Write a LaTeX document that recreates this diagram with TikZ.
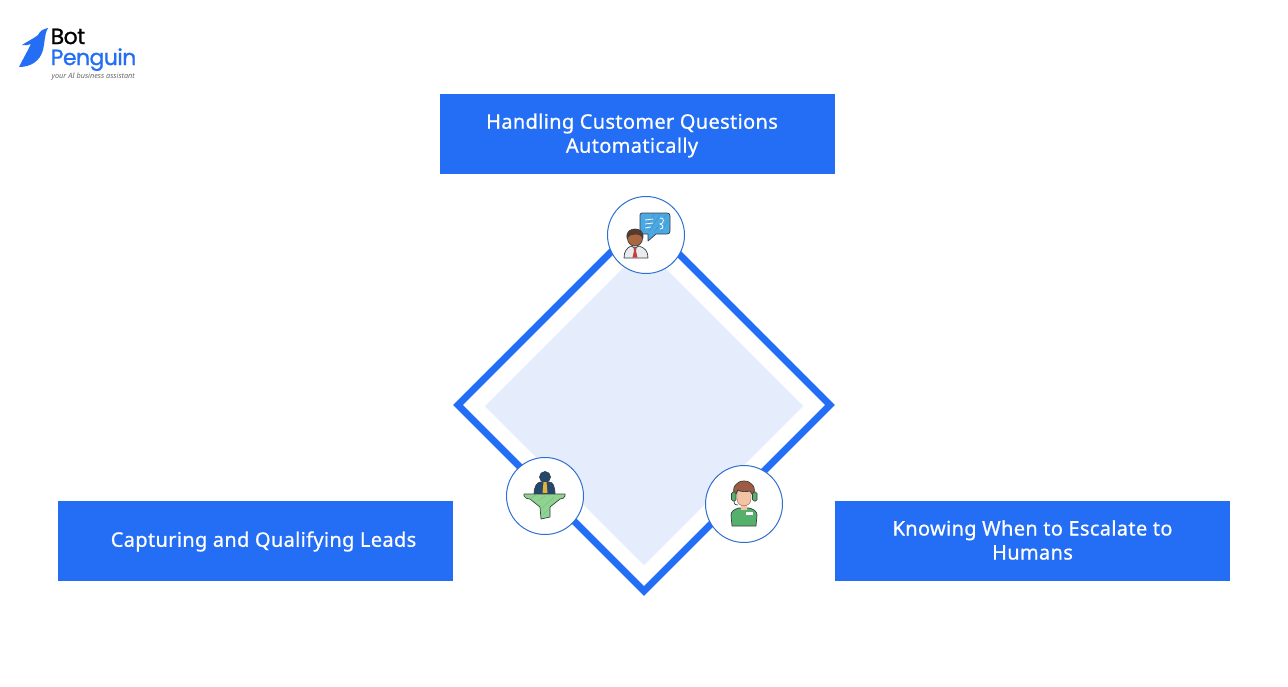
\documentclass[tikz,border=0pt]{standalone}
\usepackage{fontspec}
\setmainfont{Noto Sans}
\newfontfamily\logofont{Poppins}[FakeBold=1.0]
\newfontfamily\boxfont{Noto Sans}[FakeBold=0.7,LetterSpace=1.7]
\definecolor{bpblue}{HTML}{246EF5}
\definecolor{bpfill}{HTML}{E5EDFD}
\definecolor{ringblue}{HTML}{2E6FD0}
\definecolor{inkdark}{HTML}{3A3F44}
\definecolor{chatblue}{HTML}{4BA8E3}
\definecolor{skin}{HTML}{A9663F}
\definecolor{hair}{HTML}{5C3A2A}
\definecolor{shirt}{HTML}{E8ECEC}
\definecolor{tie}{HTML}{C2413F}
\definecolor{navy}{HTML}{24476E}
\definecolor{gold}{HTML}{E3B23C}
\definecolor{funnel}{HTML}{8FD391}
\definecolor{agent}{HTML}{55B06C}
\definecolor{agenthair}{HTML}{9C5B42}
\definecolor{agentskin}{HTML}{F2C3A5}
\definecolor{tagline}{HTML}{6A6A6A}
\tikzset{
  titlebox/.style={fill=bpblue,draw=none,minimum width=395pt,minimum height=80pt,inner sep=0pt},
  boxtext/.style={text=white,align=center,font=\boxfont\fontsize{20}{24}\selectfont,inner sep=0pt},
  iconring/.style={circle,draw=ringblue,line width=1pt,fill=white,minimum size=77pt,inner sep=0pt},
  ink/.style={draw=inkdark,line width=.7pt,line join=round},
}
\begin{document}
\begin{tikzpicture}[x=1pt,y=-1pt]
\useasboundingbox (0,0) rectangle (1288,686);
\fill[white] (0,0) rectangle (1288,686);
% logo
\fill[bpblue] (48,28) .. controls (43,29) and (40,31) .. (38,35)
  .. controls (33,39) and (28,41) .. (22,45) .. controls (25,46) and (28,45) .. (31,44)
  .. controls (27,52) and (23,59) .. (19,67) .. controls (31,67) and (40,61) .. (43,50)
  .. controls (45,43) and (44,35) .. (48,28) -- cycle;
\node[anchor=north west,inner sep=0pt,align=left,font=\logofont\fontsize{22}{21}\selectfont\addfontfeatures{LetterSpace=-2.5}] (logotext) at (50.5,28.5)
  {\textcolor{black}{Bot}\\\textcolor{bpblue}{Penguin}};
\node[anchor=west,inner sep=0pt,font=\itshape\fontsize{7.3}{7.3}\selectfont,text=tagline] (logotag) at (51.5,77) {your AI business assistant};
% diamond
\fill[bpfill] (644,247) -- (803,406) -- (644,565) -- (485,406) -- cycle;
\draw[bpblue,line width=7pt,miter limit=10] (644,219) -- (830,405) -- (644,591) -- (458,405) -- cycle;
% boxes
\node[titlebox,minimum width=395pt] (boxtop) at (637.5,134) {};
\node[titlebox] (boxleft) at (255.5,541) {};
\node[titlebox] (boxright) at (1032.5,541) {};
\node[boxtext] (texttop) at (632,135.5) {Handling Customer Questions\\Automatically};
\node[boxtext] (textleft) at (263.5,541.5) {Capturing and Qualifying Leads};
\node[boxtext] (textright) at (1032.5,540) {Knowing When to Escalate to\\Humans};
% rings
\node[iconring] (ringtop) at (646,235) {};
\node[iconring] (ringleft) at (545,496) {};
\node[iconring] (ringright) at (744,504) {};
% icon: person with chat
\begin{scope}[shift={(646,235)}]
  \filldraw[ink,fill=chatblue] (-4,-22) -- (21,-22) .. controls (23,-22) and (24,-21) .. (24,-19)
    -- (24,-4) .. controls (24,-2) and (23,-1) .. (21,-1) -- (10,-1) -- (2,6) -- (2,-1)
    -- (-4,-1) .. controls (-5,-1) and (-6,-2) .. (-6,-4) -- (-6,-20) .. controls (-6,-21) and (-5,-22) .. (-4,-22) -- cycle;
  \draw[chatblue!80!black,line width=.3pt] (-3,-4) -- (8,-20) (3,-4) -- (14,-20) (9,-4) -- (20,-20) (15,-4) -- (22,-14);
  \draw[white,line width=.8pt] (-1,-15) -- (7,-16) (-1,-11) -- (7,-12) (-1,-7) -- (5,-8);
  \draw[white,line width=.8pt] (14,-17) .. controls (19,-18) and (18,-11) .. (14,-11) .. controls (18,-10) and (18,-6) .. (14,-6);
  \filldraw[ink,fill=shirt] (-22,23) .. controls (-22,16) and (-19,13) .. (-15,11) -- (-11,13) -- (-7,11) .. controls (-1,13) and (2,16) .. (2,23) -- cycle;
  \fill[tie] (-12.5,13) -- (-9.5,13) -- (-10,16) -- (-8.5,22.5) -- (-13.5,22.5) -- (-12,16) -- cycle;
  \filldraw[ink,fill=skin] (-11,3.5) circle[radius=7.5];
  \filldraw[ink,fill=hair] (-19,3) .. controls (-20,-4) and (-15,-6) .. (-11,-6) .. controls (-6,-6) and (-2,-3) .. (-3,3) .. controls (-5,0) and (-7,-1) .. (-11,-1) .. controls (-14,-1) and (-17,0) .. (-19,3) -- cycle;
\end{scope}
% icon: person in funnel
\begin{scope}[shift={(545,496)}]
  \filldraw[ink,fill=navy] (-11,-1) .. controls (-11,-10) and (-8,-14) .. (-4,-14) -- (4,-14) .. controls (8,-14) and (10,-10) .. (10,-1) -- cycle;
  \filldraw[ink,fill=navy] (0,-19) circle[radius=5.5];
  \fill[gold] (-1.5,-14) -- (1.5,-14) -- (2.5,-3) -- (-2.5,-3) -- cycle;
  \filldraw[ink,fill=funnel] (-21,-2) -- (20,-2) -- (20,0) .. controls (19,2) and (18,3) .. (15,3) -- (5,11) -- (5,21) -- (-4,23) -- (-5,11) -- (-15,3) .. controls (-18,3) and (-20,2) .. (-21,0) -- cycle;
  \draw[funnel!85!black,line width=.3pt] (-14,2) -- (-9,-1) (-7,5) -- (0,0) (-3,12) -- (9,1) (-2,19) -- (4,13);
\end{scope}
% icon: agent with headset
\begin{scope}[shift={(744,504)}]
  \filldraw[ink,fill=agent] (-12,22) -- (-13,11) .. controls (-13,7) and (-9,5) .. (-5,4) -- (5,4) .. controls (9,5) and (13,7) .. (13,11) -- (12,22) -- cycle;
  \fill[white] (2,8) rectangle (9,11);
  \fill[agentskin] (-3,-2) rectangle (3,6);
  \filldraw[draw=agenthair,line width=.4pt,fill=agentskin] (-7,-13) -- (7,-13) -- (7,-5) .. controls (7,4) and (-7,4) .. (-7,-5) -- cycle;
  \filldraw[ink,fill=agenthair] (-9,-8) .. controls (-13,-16) and (-8,-23) .. (0,-23) .. controls (8,-23) and (13,-16) .. (9,-8) .. controls (8,-10) and (7,-12) .. (6,-13) .. controls (2,-12) and (-3,-12) .. (-6,-14) .. controls (-7,-12) and (-8,-10) .. (-9,-8) -- cycle;
  \filldraw[ink,fill=agent,rounded corners=1.5pt] (-12.5,-12) rectangle (-8,-3);
  \filldraw[ink,fill=agent,rounded corners=1.5pt] (8.5,-12) rectangle (13,-3);
  \draw[inkdark,line width=.7pt] (-10,-3) .. controls (-10,1) and (-8,1) .. (-6,1);
\end{scope}
\end{tikzpicture}
\end{document}
